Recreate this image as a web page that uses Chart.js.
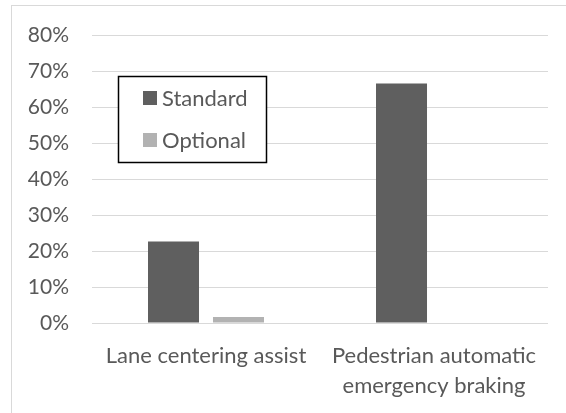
<!DOCTYPE html>
<html>
<head>
<meta charset="utf-8">
<script src="https://cdn.jsdelivr.net/npm/chart.js@4"></script>
<style>
  html, body { margin: 0; padding: 0; background: #fff; }
  #wrap { width: 566px; height: 413px; position: relative; }
</style>
</head>
<body>
<div id="wrap"><canvas id="chart" width="566" height="413"></canvas></div>
<script>
    'use strict';

    const categories = [['Lane centering assist'], ['Pedestrian automatic', 'emergency braking']];
    const standardValues = [0.227, 0.667];
    const optionalValues = [0.017, 0];
    const seriesNames = ['Standard', 'Optional'];
    const seriesColors = ['#5f5f5f', '#b2b2b2'];

    const FONT = "Lato, 'Open Sans', sans-serif";
    const TEXT = '#595959';

    /**
     * Outer frame, cut by the right and bottom edges like the source
     */
    const framePlugin = {
        id: 'frame',
        afterDraw(chart) {
            const ctx = chart.ctx;
            ctx.save();
            ctx.strokeStyle = '#d9d9d9';
            ctx.lineWidth = 1;
            ctx.strokeRect(11.5, 5.5, 600, 500);
            ctx.restore();
        }
    };

    /**
     * Boxed legend sitting inside the plot area
     */
    const boxLegendPlugin = {
        id: 'boxLegend',
        afterDraw(chart) {
            const ctx = chart.ctx;
            ctx.save();
            ctx.fillStyle = '#fff';
            ctx.fillRect(118, 76, 148, 86);
            ctx.strokeStyle = '#000';
            ctx.lineWidth = 1.5;
            ctx.strokeRect(118.5, 76.5, 148, 86);
            ctx.font = '22px ' + FONT;
            ctx.textBaseline = 'middle';
            chart.data.datasets.forEach((ds, i) => {
                const y = 98 + i * 42;
                ctx.fillStyle = ds.backgroundColor;
                ctx.fillRect(143, y - 7, 14, 14);
                ctx.fillStyle = TEXT;
                ctx.fillText(ds.label, 162, y + 1);
            });
            ctx.restore();
        }
    };

    new Chart(document.getElementById('chart').getContext('2d'), {
        type: 'bar',
        data: {
            labels: categories,
            datasets: [
                {
                    label: seriesNames[0],
                    data: standardValues,
                    backgroundColor: seriesColors[0],
                    categoryPercentage: 0.57,
                    barPercentage: 0.785
                },
                {
                    label: seriesNames[1],
                    data: optionalValues,
                    backgroundColor: seriesColors[1],
                    categoryPercentage: 0.57,
                    barPercentage: 0.785
                }
            ]
        },
        options: {
            responsive: false,
            animation: false,
            layout: { padding: { top: 34, right: 18, left: 0, bottom: 0 } },
            plugins: {
                legend: { display: false },
                tooltip: { enabled: false }
            },
            scales: {
                x: {
                    grid: { display: false },
                    border: { display: false },
                    ticks: {
                        color: TEXT,
                        font: { family: FONT, size: 22, lineHeight: 1.36 },
                        padding: 10,
                        maxRotation: 0,
                        autoSkip: false
                    },
                    afterFit(scale) { scale.height = 90; }
                },
                y: {
                    min: 0,
                    max: 0.8,
                    grid: { color: '#d9d9d9', lineWidth: 1, drawTicks: false },
                    border: { display: false },
                    ticks: {
                        stepSize: 0.1,
                        color: TEXT,
                        font: { family: FONT, size: 21 },
                        padding: 23,
                        callback: v => Math.round(v * 100) + '%'
                    },
                    afterFit(scale) { scale.width = 92; }
                }
            }
        },
        plugins: [framePlugin, boxLegendPlugin]
    });
</script>
</body>
</html>
